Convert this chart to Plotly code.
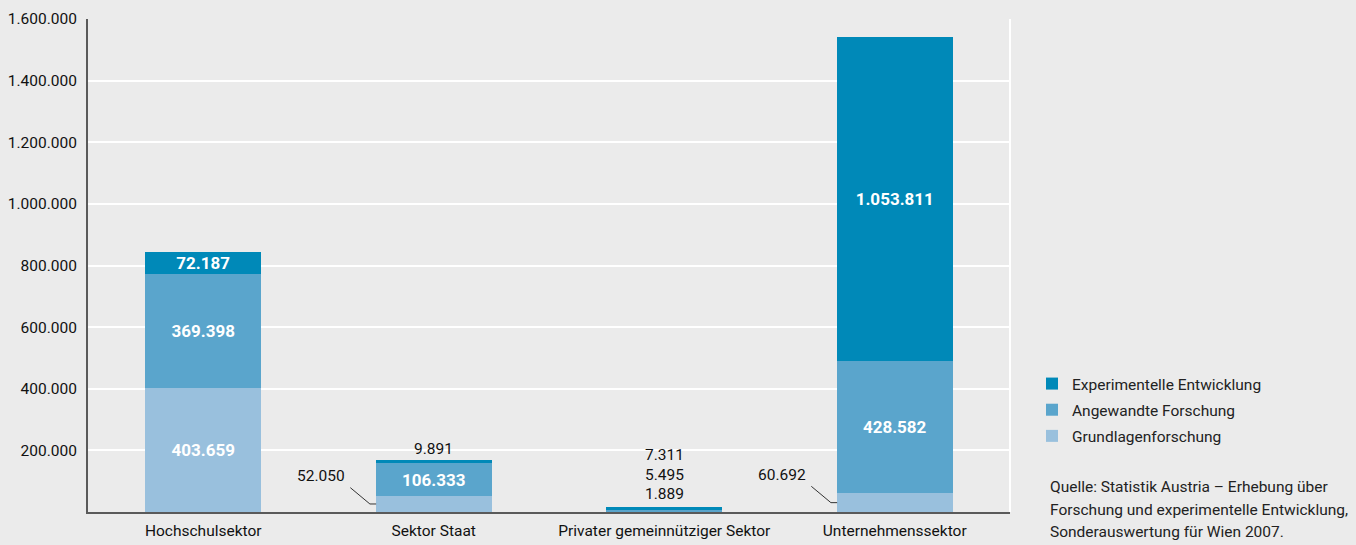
import plotly.graph_objects as go

# Forschungsausgaben nach Sektor und Forschungsart (Wien 2007)
sektoren = ["Hochschulsektor", "Sektor Staat", "Privater gemeinnütziger Sektor", "Unternehmenssektor"]
grundlagen = [403659, 52050, 1889, 60692]
angewandt = [369398, 106333, 5495, 428582]
experimentell = [72187, 9891, 7311, 1053811]

y_ticks = [200000, 400000, 600000, 800000, 1000000, 1200000, 1400000, 1600000]

quelle = [
    "Quelle: Statistik Austria – Erhebung über",
    "Forschung und experimentelle Entwicklung,",
    "Sonderauswertung für Wien 2007.",
]

FONT = "Roboto"
C_GRUND = "#99c0dd"
C_ANGEW = "#5aa5cc"
C_EXP = "#0089b8"
MIN_INSIDE = 60000  # kleinere Segmente werden außerhalb beschriftet
TXT = dict(family=FONT, size=15.5, color="#111")

# Zeichenfläche in Pixeln
L, R, T, B = 88, 1010, 19, 512
W, H = R - L, B - T


def fmt(v):
    return f"{v:,}".replace(",", ".")


fig = go.Figure()
series = [
    ("Grundlagenforschung", grundlagen, C_GRUND),
    ("Angewandte Forschung", angewandt, C_ANGEW),
    ("Experimentelle Entwicklung", experimentell, C_EXP),
]
for k, (name, vals, col) in enumerate(series):
    # Grundlagenwerte unter 100.000 stehen neben dem Balken
    limit = 100000 if k == 0 else MIN_INSIDE
    labels = [fmt(v) if v >= limit else "" for v in vals]
    fig.add_trace(go.Bar(
        x=sektoren, y=vals, name=name, legendgroup=name, legendrank=10 - k,
        marker=dict(color=col, line=dict(width=0)),
        text=labels, textposition="inside", insidetextanchor="middle",
        constraintext="none", cliponaxis=False,
        textfont=dict(family=FONT, size=17, color="white", weight="bold"),
        hoverinfo="skip",
    ))

totals = [g + a + e for g, a, e in zip(grundlagen, angewandt, experimentell)]
annotations = []
shapes = []

# Grundlagen-Werte links neben dem Balken mit Hinweislinie
for i in (1, 3):
    mid = grundlagen[i] / 2
    shapes.append(dict(type="line", xref="x", yref="y", x0=i - 0.25, x1=i - 0.277, y0=mid, y1=mid,
                       line=dict(color="#333", width=1)))
    shapes.append(dict(type="line", xref="x", yref="y", x0=i - 0.277, x1=i - 0.362, y0=mid, y1=mid + 53000,
                       line=dict(color="#333", width=1)))
    annotations.append(dict(x=i - 0.375, y=mid + 90000, xref="x", yref="y", text=fmt(grundlagen[i]),
                            showarrow=False, xanchor="right", yanchor="middle", font=TXT))

# Sektor Staat: Experimentelle Entwicklung über dem Balken
annotations.append(dict(x=1, y=totals[1], xref="x", yref="y", text=fmt(experimentell[1]),
                        showarrow=False, yanchor="middle", yshift=11, font=TXT))

# Privater Sektor: alle drei Werte über dem Balken
for v, shift in ((grundlagen[2], 13), (angewandt[2], 32), (experimentell[2], 52)):
    annotations.append(dict(x=2, y=totals[2], xref="x", yref="y", text=fmt(v),
                            showarrow=False, yanchor="middle", yshift=shift, font=TXT))

# Quellenangabe, zeilenweise
for n, line in enumerate(quelle):
    py = 487 + n * 22.5
    annotations.append(dict(
        xref="paper", yref="paper", x=(1048 - L) / W, y=(B - py) / H,
        xanchor="left", yanchor="middle", align="left", showarrow=False,
        text=line, font=dict(family=FONT, size=15.5, color="#222")))

# rechte Begrenzung der Zeichenfläche
shapes.append(dict(type="line", xref="paper", yref="y", x0=1, x1=1, y0=0, y1=1600000,
                   line=dict(color="white", width=2), layer="below"))

fig.update_layout(
    width=1356, height=545,
    margin=dict(l=L, r=1356 - R, t=T, b=545 - B, autoexpand=False),
    paper_bgcolor="#ebebeb", plot_bgcolor="#ebebeb",
    barmode="stack", bargap=0.497,
    separators=",.",
    font=dict(family=FONT, size=15.5, color="#111"),
    showlegend=True,
    legend=dict(x=(1032 - L) / W, y=(B - 367) / H, xanchor="left", yanchor="top",
                traceorder="grouped", bgcolor="rgba(0,0,0,0)",
                font=dict(family=FONT, size=15.5, color="#222"),
                itemwidth=30, tracegroupgap=3),
    annotations=annotations,
    shapes=shapes,
    xaxis=dict(showgrid=False, showline=True, linecolor="#5a5a5a", linewidth=2,
               ticks="", tickfont=TXT, automargin=False, ticklabelstandoff=3),
    yaxis=dict(range=[0, 1600000], tickvals=y_ticks, tickformat=",d",
               showgrid=True, gridcolor="white", gridwidth=2, zeroline=False,
               showline=True, linecolor="#5a5a5a", linewidth=2, ticks="",
               ticklabelstandoff=6, tickfont=TXT, automargin=False),
)

fig.write_html("out.html")
